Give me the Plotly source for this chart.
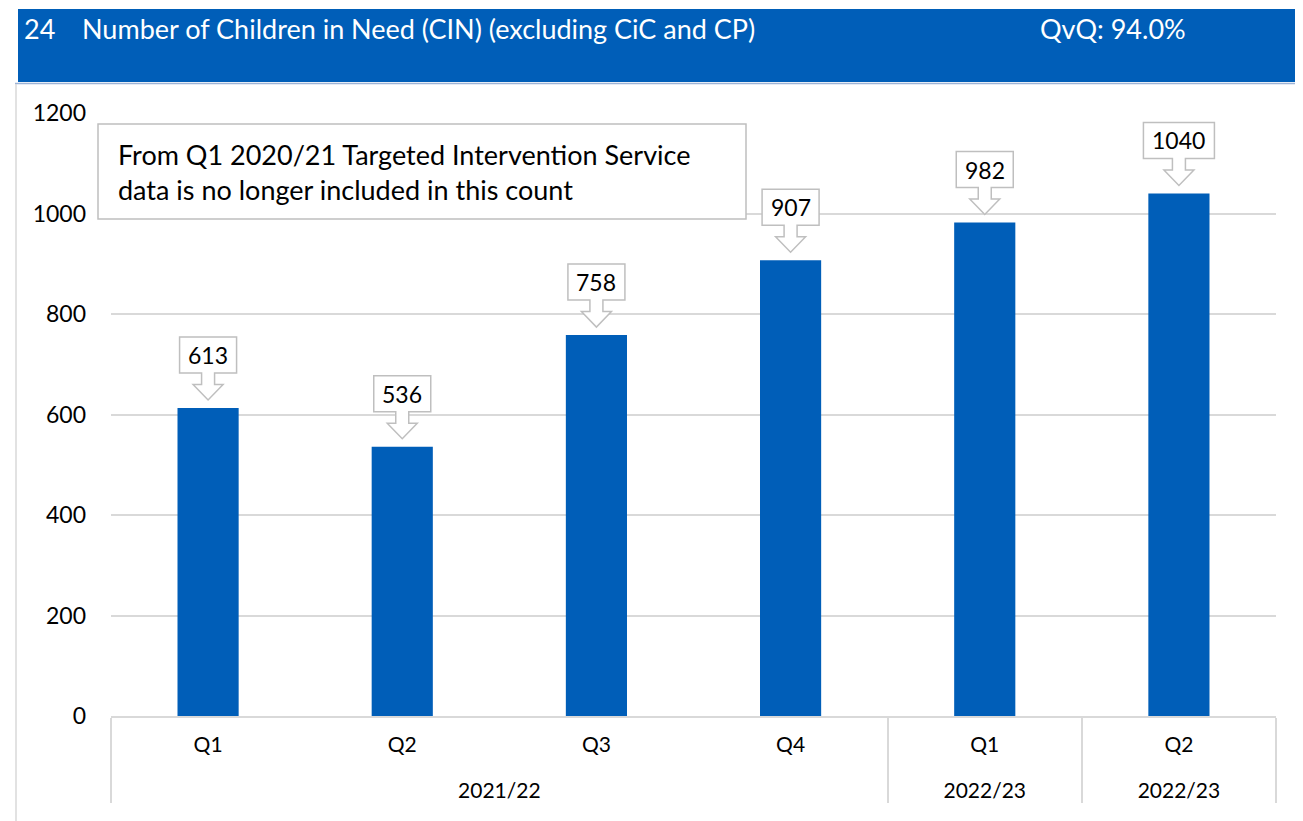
import plotly.graph_objects as go

# chart data
years = ["2021/22", "2021/22", "2021/22", "2021/22", "2022/23", "2022/23\u200b"]
quarters = ["Q1", "Q2", "Q3", "Q4", "Q1", "Q2"]
cin_counts = [613, 536, 758, 907, 982, 1040]
y_ticks = [0, 200, 400, 600, 800, 1000, 1200]

title_no = "24"
title_text = "Number of Children in Need (CIN) (excluding CiC and CP)"
qvq_text = "QvQ: 94.0%"
note_text = "From Q1 2020/21 Targeted Intervention Service<br>data is no longer included in this count"

BLUE = "#005EB8"
GRID = "#D9D9D9"
BOX_LINE = "#BFBFBF"
FONT = "Lato"

# the page puts the figure 8px in from the top-left corner
OFF = 8
PAGE_W, PAGE_H = 1303, 821
W, H = PAGE_W - OFF, PAGE_H - OFF
L, R, T, B = 111, 1276, 113, 716   # plot area, page pixels


def px_x(p):
    return (p - L) / (R - L)


def px_y(p):
    return (B - p) / (B - T)


fig = go.Figure()
fig.add_trace(go.Bar(
    x=[["<br>" + y for y in years], quarters], y=cin_counts,
    marker=dict(color=BLUE, line=dict(width=0)),
    width=0.315, hoverinfo="y",
))

shapes = []
annotations = []

# header band
shapes.append(dict(type="rect", xref="paper", yref="paper",
                   x0=px_x(18), x1=px_x(1320), y0=px_y(82), y1=px_y(9),
                   fillcolor=BLUE, line=dict(width=0), layer="below"))
shapes.append(dict(type="line", xref="paper", yref="paper",
                   x0=px_x(15), x1=px_x(1320), y0=px_y(83.5), y1=px_y(83.5),
                   line=dict(color="#9DB3D6", width=1.5)))
shapes.append(dict(type="line", xref="paper", yref="paper",
                   x0=px_x(16), x1=px_x(16), y0=px_y(84), y1=px_y(840),
                   line=dict(color=GRID, width=1.5)))

for txt, xp in [(title_no, 22), (title_text, 80), (qvq_text, 1038)]:
    annotations.append(dict(text=txt, xref="paper", yref="paper",
                            x=px_x(xp), y=px_y(29), xanchor="left", yanchor="middle",
                            showarrow=False, font=dict(family=FONT, size=27, color="white")))

# note box
shapes.append(dict(type="rect", xref="paper", yref="paper",
                   x0=px_x(98), x1=px_x(746), y0=px_y(219), y1=px_y(124),
                   fillcolor="white", line=dict(color=BOX_LINE, width=1.5)))
annotations.append(dict(text=note_text, xref="paper", yref="paper",
                        x=px_x(116), y=px_y(172), xanchor="left", yanchor="middle",
                        align="left", showarrow=False,
                        font=dict(family=FONT, size=27, color="black")))

# callout labels above bars
for i, v in enumerate(cin_counts):
    label = str(v)
    hw = (14 * len(label) + 15) / 2
    pts = [(-hw, 35), (-6.5, 35), (-6.5, 23.5), (-15, 23.5), (0, 8), (15, 23.5),
           (6.5, 23.5), (6.5, 35), (hw, 35), (hw, 71), (-hw, 71)]
    path = "M " + " L ".join(f"{x},{y}" for x, y in pts) + " Z"
    shapes.append(dict(type="path", xref="x", yref="y",
                       xsizemode="pixel", ysizemode="pixel",
                       xanchor=i, yanchor=v, path=path,
                       fillcolor="white", line=dict(color=BOX_LINE, width=1.5)))
    annotations.append(dict(text=label, x=i, y=v, xref="x", yref="y",
                            yshift=53, showarrow=False,
                            font=dict(family=FONT, size=23, color="black")))

fig.update_layout(
    width=W, height=H,
    margin=dict(l=L - OFF, r=PAGE_W - R, t=T - OFF, b=PAGE_H - B),
    paper_bgcolor="white", plot_bgcolor="white",
    showlegend=False,
    font=dict(family=FONT, color="black"),
    shapes=shapes, annotations=annotations,
)
fig.update_yaxes(range=[0, 1200], tickvals=y_ticks, showgrid=True,
                 gridcolor=GRID, gridwidth=1.5, zeroline=False, showline=False,
                 ticks="", ticklabelstandoff=24,
                 tickfont=dict(family=FONT, size=23, color="black"))
fig.update_xaxes(type="multicategory", showline=True, linecolor=GRID, linewidth=2,
                 showdividers=True, dividercolor=GRID, dividerwidth=2,
                 ticks="", ticklabelstandoff=9,
                 tickfont=dict(family=FONT, size=21, color="black"))

fig.write_html("out.html")
